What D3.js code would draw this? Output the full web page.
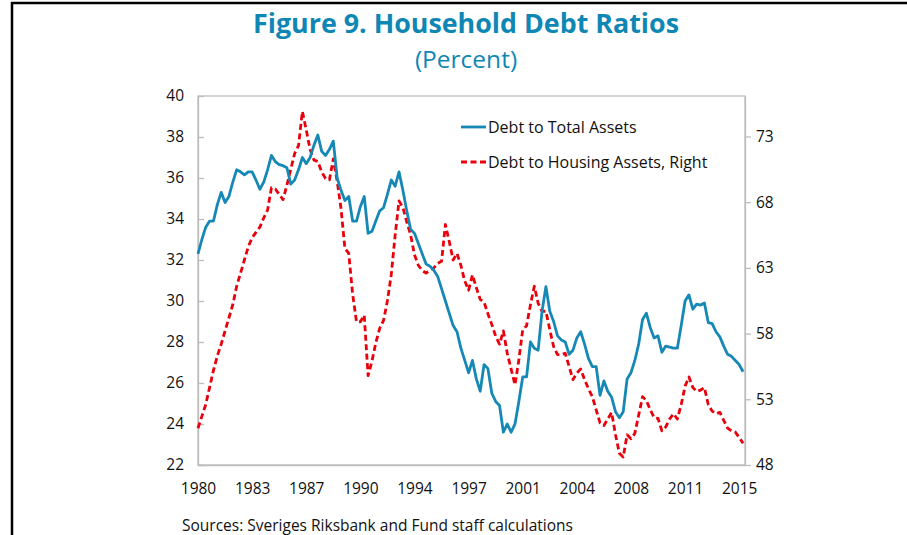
<!DOCTYPE html>
<html>
<head>
<meta charset="utf-8">
<script src="https://cdn.jsdelivr.net/npm/d3@7"></script>
<style>
  html, body { margin: 0; padding: 0; background: #fff; }
  svg { display: block; }
  text { font-family: "Open Sans", "Noto Sans", sans-serif; }
</style>
</head>
<body>
<svg id="chart" width="907" height="535"></svg>
<script>
// ---- Data (quarterly, 1980Q1 .. 2015Q2) ----
const startYear = 1980;
const debtToTotalAssets = [
  32.3, 33.0, 33.6, 33.9, 33.9, 34.7, 35.3, 34.8, 35.1, 35.8,
  36.4, 36.3, 36.15, 36.3, 36.3, 35.9, 35.45, 35.8, 36.4, 37.1,
  36.8, 36.65, 36.6, 36.5, 35.7, 35.9, 36.4, 37.0, 36.7, 37.0,
  37.6, 38.1, 37.3, 37.1, 37.4, 37.8, 36.0, 35.4, 34.9, 35.1,
  33.9, 33.9, 34.6, 35.1, 33.3, 33.4, 33.9, 34.4, 34.55, 35.2,
  35.9, 35.6, 36.3, 35.4, 34.4, 33.5, 33.3, 32.8, 32.3, 31.8,
  31.7, 31.5, 31.2, 30.6, 30.0, 29.4, 28.8, 28.5, 27.7, 27.1,
  26.5, 27.1, 26.2, 25.6, 26.9, 26.7, 25.5, 25.1, 24.9, 23.6,
  24.0, 23.6, 24.0, 25.1, 26.3, 26.3, 28.0, 27.7, 27.6, 29.5,
  30.7, 29.5, 29.0, 28.3, 28.1, 28.0, 27.4, 27.6, 28.2, 28.5,
  27.9, 27.2, 26.8, 26.8, 25.4, 26.1, 25.6, 25.3, 24.6, 24.3,
  24.6, 26.2, 26.5, 27.1, 27.9, 29.1, 29.4, 28.7, 28.2, 28.3,
  27.5, 27.8, 27.75, 27.7, 27.7, 28.8, 30.0, 30.3, 29.6, 29.85,
  29.8, 29.9, 28.95, 28.9, 28.5, 28.25, 27.8, 27.4, 27.3, 27.1,
  26.9, 26.55
];
const debtToHousingAssets = [
  50.8, 51.7, 52.6, 53.9, 55.2, 56.3, 57.2, 58.2, 59.2, 60.2,
  61.6, 62.6, 63.6, 64.6, 65.3, 65.7, 66.1, 66.8, 67.4, 69.1,
  69.0, 68.6, 68.2, 69.3, 70.5, 71.7, 72.3, 74.9, 73.5, 72.0,
  71.2, 71.1, 70.3, 69.8, 69.7, 71.3, 69.6, 67.5, 64.5, 64.1,
  61.0, 58.9, 58.9, 59.4, 54.8, 55.9, 57.3, 58.4, 59.0, 60.5,
  62.5, 65.5, 68.1, 67.6, 66.5, 65.5, 64.0, 63.2, 62.8, 62.6,
  62.8, 63.0, 63.35, 63.5, 66.3, 65.0, 63.6, 64.1, 63.2, 62.0,
  61.3, 62.46, 61.5, 60.6, 60.4, 59.5, 58.7, 57.8, 57.2, 58.2,
  56.5, 55.3, 54.1, 56.0, 58.3, 58.6, 60.2, 61.6, 60.3, 59.7,
  59.7, 58.3, 57.0, 56.4, 56.4, 56.5, 55.5, 54.5, 55.0, 55.3,
  54.5, 53.8, 53.2, 52.2, 51.2, 51.0, 51.5, 52.0, 50.3, 48.9,
  48.6, 50.3, 50.0, 50.4, 51.8, 53.2, 52.9, 52.2, 51.6, 51.55,
  50.6, 50.9, 51.5, 51.9, 51.5, 52.6, 54.0, 54.7, 53.9, 53.6,
  53.7, 53.9, 52.6, 52.1, 51.9, 52.0, 51.4, 50.8, 50.6, 50.5,
  50.1, 49.65
];
const xTickIndex  = [0, 14, 28, 42, 56, 70, 84, 98, 112, 126, 140];
const xTickLabels = ["1980", "1983", "1987", "1990", "1994", "1997", "2001", "2004", "2008", "2011", "2015"];
const leftTicks  = [22, 24, 26, 28, 30, 32, 34, 36, 38, 40];
const rightTicks = [48, 53, 58, 63, 68, 73];
const seriesNames = ["Debt to Total Assets", "Debt to Housing Assets, Right"];

// ---- Layout ----
const svg = d3.select("#chart");
const plot = { left: 198, right: 745, top: 96, bottom: 465 };
const blue = "#1688B6";
const red = "#E8000B";
const gridGray = "#BDBDBD";
const textColor = "#111";

const x = d3.scaleLinear().domain([0, 141.5]).range([plot.left, plot.right]);
const yL = d3.scaleLinear().domain([22, 40]).range([plot.bottom, plot.top]);
const yR = d3.scaleLinear().domain([48, 76.08]).range([plot.bottom, plot.top]);

// Outer black frame (partial, as in the reference)
svg.append("line").attr("x1", 12).attr("x2", 12).attr("y1", 2).attr("y2", 535)
  .attr("stroke", "#000").attr("stroke-width", 2.5);
svg.append("line").attr("x1", 11).attr("x2", 907).attr("y1", 3).attr("y2", 3)
  .attr("stroke", "#000").attr("stroke-width", 2.5);

// Titles
svg.append("text").attr("x", 466).attr("y", 33).attr("text-anchor", "middle")
  .attr("font-size", 26).attr("font-weight", 700).attr("fill", "#0F87B5")
  .attr("textLength", 426).attr("lengthAdjust", "spacingAndGlyphs")
  .text("Figure 9. Household Debt Ratios");
svg.append("text").attr("x", 466).attr("y", 68).attr("text-anchor", "middle")
  .attr("font-size", 24.5).attr("fill", "#0F87B5")
  .text("(Percent)");

// Plot frame
svg.append("rect").attr("x", plot.left).attr("y", plot.top)
  .attr("width", plot.right - plot.left).attr("height", plot.bottom - plot.top)
  .attr("fill", "none").attr("stroke", gridGray).attr("stroke-width", 1.3);

const tickFont = 15.5;

// Left axis (ticks inward)
const leftAxis = d3.axisLeft(yL).tickValues(leftTicks).tickSizeInner(-6).tickSizeOuter(0).tickPadding(14);
const gL = svg.append("g").attr("transform", `translate(${plot.left},0)`).call(leftAxis);
gL.select(".domain").attr("stroke", gridGray).attr("stroke-width", 1.3);
gL.selectAll(".tick line").attr("stroke", gridGray).attr("stroke-width", 1.3);
gL.selectAll(".tick text").attr("font-size", tickFont).attr("fill", textColor)
  .attr("font-family", "'Open Sans', sans-serif");

// Right axis (ticks outward)
const rightAxis = d3.axisRight(yR).tickValues(rightTicks).tickSizeInner(6).tickSizeOuter(0).tickPadding(5);
const gR = svg.append("g").attr("transform", `translate(${plot.right},0)`).call(rightAxis);
gR.select(".domain").attr("stroke", gridGray).attr("stroke-width", 1.3);
gR.selectAll(".tick line").attr("stroke", gridGray).attr("stroke-width", 1.3);
gR.selectAll(".tick text").attr("font-size", tickFont).attr("fill", textColor)
  .attr("font-family", "'Open Sans', sans-serif");

// Bottom axis (no ticks)
const bottomAxis = d3.axisBottom(x).tickValues(xTickIndex)
  .tickFormat((d, i) => xTickLabels[i]).tickSize(0).tickPadding(18);
const gB = svg.append("g").attr("transform", `translate(0,${plot.bottom})`).call(bottomAxis);
gB.select(".domain").attr("stroke", gridGray).attr("stroke-width", 1.3);
gB.selectAll(".tick text").attr("font-size", tickFont).attr("fill", textColor)
  .attr("font-family", "'Open Sans', sans-serif");

// Lines
const lineL = d3.line().x((d, i) => x(i)).y(d => yL(d));
const lineR = d3.line().x((d, i) => x(i)).y(d => yR(d));

svg.append("path").datum(debtToHousingAssets).attr("d", lineR)
  .attr("fill", "none").attr("stroke", red).attr("stroke-width", 2.8)
  .attr("stroke-dasharray", "6,3.5").attr("stroke-linejoin", "round");
svg.append("path").datum(debtToTotalAssets).attr("d", lineL)
  .attr("fill", "none").attr("stroke", blue).attr("stroke-width", 2.8)
  .attr("stroke-linejoin", "round");

// Legend
const legend = svg.append("g");
legend.append("line").attr("x1", 461).attr("x2", 486).attr("y1", 127).attr("y2", 127)
  .attr("stroke", blue).attr("stroke-width", 2.8);
legend.append("text").attr("x", 488).attr("y", 132.5).attr("font-size", 16).attr("fill", textColor)
  .text(seriesNames[0]);
legend.append("line").attr("x1", 461).attr("x2", 486).attr("y1", 162).attr("y2", 162)
  .attr("stroke", red).attr("stroke-width", 2.8).attr("stroke-dasharray", "6,3.5");
legend.append("text").attr("x", 488).attr("y", 167.5).attr("font-size", 16).attr("fill", textColor)
  .text(seriesNames[1]);

// Source note
svg.append("text").attr("x", 182).attr("y", 531).attr("font-size", 15.5).attr("fill", textColor)
  .text("Sources: Sveriges Riksbank and Fund staff calculations");
</script>
</body>
</html>
